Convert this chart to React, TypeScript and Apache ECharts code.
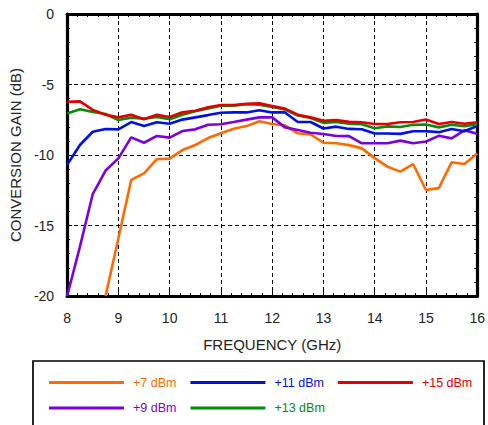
import React, { useEffect, useRef } from "react";
import * as echarts from "echarts";

const freqs = [8, 8.25, 8.5, 8.75, 9, 9.25, 9.5, 9.75, 10, 10.25, 10.5, 10.75, 11, 11.25, 11.5, 11.75, 12, 12.25, 12.5, 12.75, 13, 13.25, 13.5, 13.75, 14, 14.25, 14.5, 14.75, 15, 15.25, 15.5, 15.75, 16];

const p7 = [null, null, null, -20, -15.9, -11.77, -11.3, -10.3, -10.26, -9.65, -9.29, -8.8, -8.46, -8.14, -7.95, -7.61, -7.8, -7.9, -8.46, -8.54, -9.13, -9.17, -9.3, -9.53, -10.22, -10.83, -11.18, -10.64, -12.48, -12.35, -10.52, -10.64, -9.9];
const p9 = [-20, -16.5, -12.77, -11.1, -10.24, -8.75, -9.13, -8.65, -8.77, -8.3, -8.18, -7.85, -7.82, -7.66, -7.49, -7.33, -7.33, -8.04, -8.23, -8.42, -8.51, -8.65, -8.66, -9.17, -9.17, -9.17, -8.98, -9.17, -9.04, -8.64, -8.82, -8.25, -8.5];
const p11 = [-10.7, -9.29, -8.35, -8.16, -8.18, -7.66, -7.94, -7.68, -7.78, -7.49, -7.33, -7.17, -7.0, -6.98, -6.98, -6.83, -6.98, -6.98, -7.66, -7.66, -8.12, -7.99, -8.15, -8.17, -8.48, -8.48, -8.5, -8.32, -8.32, -8.38, -8.15, -8.32, -7.94];
const p13 = [-7.05, -6.76, -6.95, -7.09, -7.52, -7.35, -7.42, -7.3, -7.47, -7.14, -6.9, -6.7, -6.5, -6.5, -6.4, -6.43, -6.6, -6.77, -7.2, -7.38, -7.72, -7.65, -7.78, -7.82, -8.1, -7.97, -8.01, -7.86, -7.84, -8.04, -7.85, -7.96, -7.82];
const p15 = [-6.22, -6.2, -6.8, -7.15, -7.33, -7.14, -7.47, -7.14, -7.3, -6.97, -6.86, -6.62, -6.45, -6.45, -6.36, -6.34, -6.52, -6.71, -7.14, -7.33, -7.58, -7.52, -7.65, -7.68, -7.8, -7.8, -7.68, -7.66, -7.48, -7.8, -7.66, -7.78, -7.68];

const seriesNames = ["+7 dBm", "+9 dBm", "+11 dBm", "+13 dBm", "+15 dBm"];
const seriesValues = [p7, p9, p11, p13, p15];
const seriesColors = ["#FF6A00", "#7A00E0", "#0010DD", "#0A8A0A", "#E00000"];

const legendRow1 = ["+7 dBm", "+11 dBm", "+15 dBm"];
const legendRow2 = ["+9 dBm", "+13 dBm"];

const FONT = "Liberation Sans, Arial, Helvetica, sans-serif";
const TXT = "#222";

export default function App() {
  const ref = useRef<HTMLDivElement>(null);
  useEffect(() => {
    document.body.style.margin = "0";
    const chart = echarts.init(ref.current!, null, { renderer: "svg" });
    const colorOf = (n: string) => seriesColors[seriesNames.indexOf(n)];
    const legendBase = {
      left: 49,
      padding: 0,
      itemWidth: 75,
      itemHeight: 3,
      itemGap: 14,
      icon: "rect",
      selectedMode: true,
      textStyle: { fontSize: 12.5, fontFamily: FONT, padding: [0, 0, 0, 4] },
    };
    const axisCommon = {
      type: "value",
      axisLine: { show: true, onZero: false, lineStyle: { color: "#000", width: 3.2 } },
      axisTick: { show: true, inside: true, length: 5, lineStyle: { color: "#000", width: 1 } },
      minorTick: { show: true, splitNumber: 5, length: 3, lineStyle: { color: "#000", width: 1 } },
    };
    chart.setOption({
      animation: false,
      grid: { left: 63, right: 8, top: 14, bottom: 129 },
      xAxis: [
        {
          ...axisCommon,
          min: 8,
          max: 16,
          interval: 1,
          name: "FREQUENCY (GHz)",
          nameLocation: "middle",
          nameGap: 41,
          nameTextStyle: { fontSize: 15, fontFamily: FONT, color: TXT },
          axisLabel: { fontSize: 14, fontFamily: FONT, color: TXT, margin: 15 },
          splitLine: { show: true, lineStyle: { color: "#000", width: 1, type: [4, 3] } },
        },
        {
          ...axisCommon,
          position: "top",
          min: 8,
          max: 16,
          interval: 1,
          axisLabel: { show: false },
          splitLine: { show: false },
        },
      ],
      yAxis: [
        {
          ...axisCommon,
          min: -20,
          max: 0,
          interval: 5,
          name: "CONVERSION GAIN (dB)",
          nameLocation: "middle",
          nameGap: 40,
          nameTextStyle: { fontSize: 15, fontFamily: FONT, color: TXT },
          axisLabel: { fontSize: 14, fontFamily: FONT, color: TXT, margin: 13 },
          splitLine: { show: true, lineStyle: { color: "#000", width: 1, type: [4, 3] } },
        },
        {
          ...axisCommon,
          position: "right",
          min: -20,
          max: 0,
          interval: 5,
          axisLabel: { show: false },
          splitLine: { show: false },
        },
      ],
      legend: [
        {
          ...legendBase,
          top: 376,
          data: legendRow1.map((n) => ({ name: n, textStyle: { color: colorOf(n) } })),
        },
        {
          ...legendBase,
          top: 401.5,
          data: legendRow2.map((n) => ({ name: n, textStyle: { color: colorOf(n) } })),
        },
      ],
      graphic: [
        {
          type: "rect",
          shape: { x: 33, y: 361, width: 451, height: 100 },
          style: { fill: "none", stroke: "#000", lineWidth: 1.7 },
          silent: true,
        },
      ],
      series: seriesNames.map((name, i) => ({
        name,
        type: "line",
        data: freqs.map((f, j) => [f, seriesValues[i][j]]),
        color: seriesColors[i],
        showSymbol: false,
        symbol: "none",
        lineStyle: { width: 2.6, color: seriesColors[i] },
        connectNulls: false,
        z: 3 + i,
      })),
    });
    return () => chart.dispose();
  }, []);
  return <div ref={ref} style={{ position: "absolute", left: 0, top: 0, width: 488, height: 425 }} />;
}
